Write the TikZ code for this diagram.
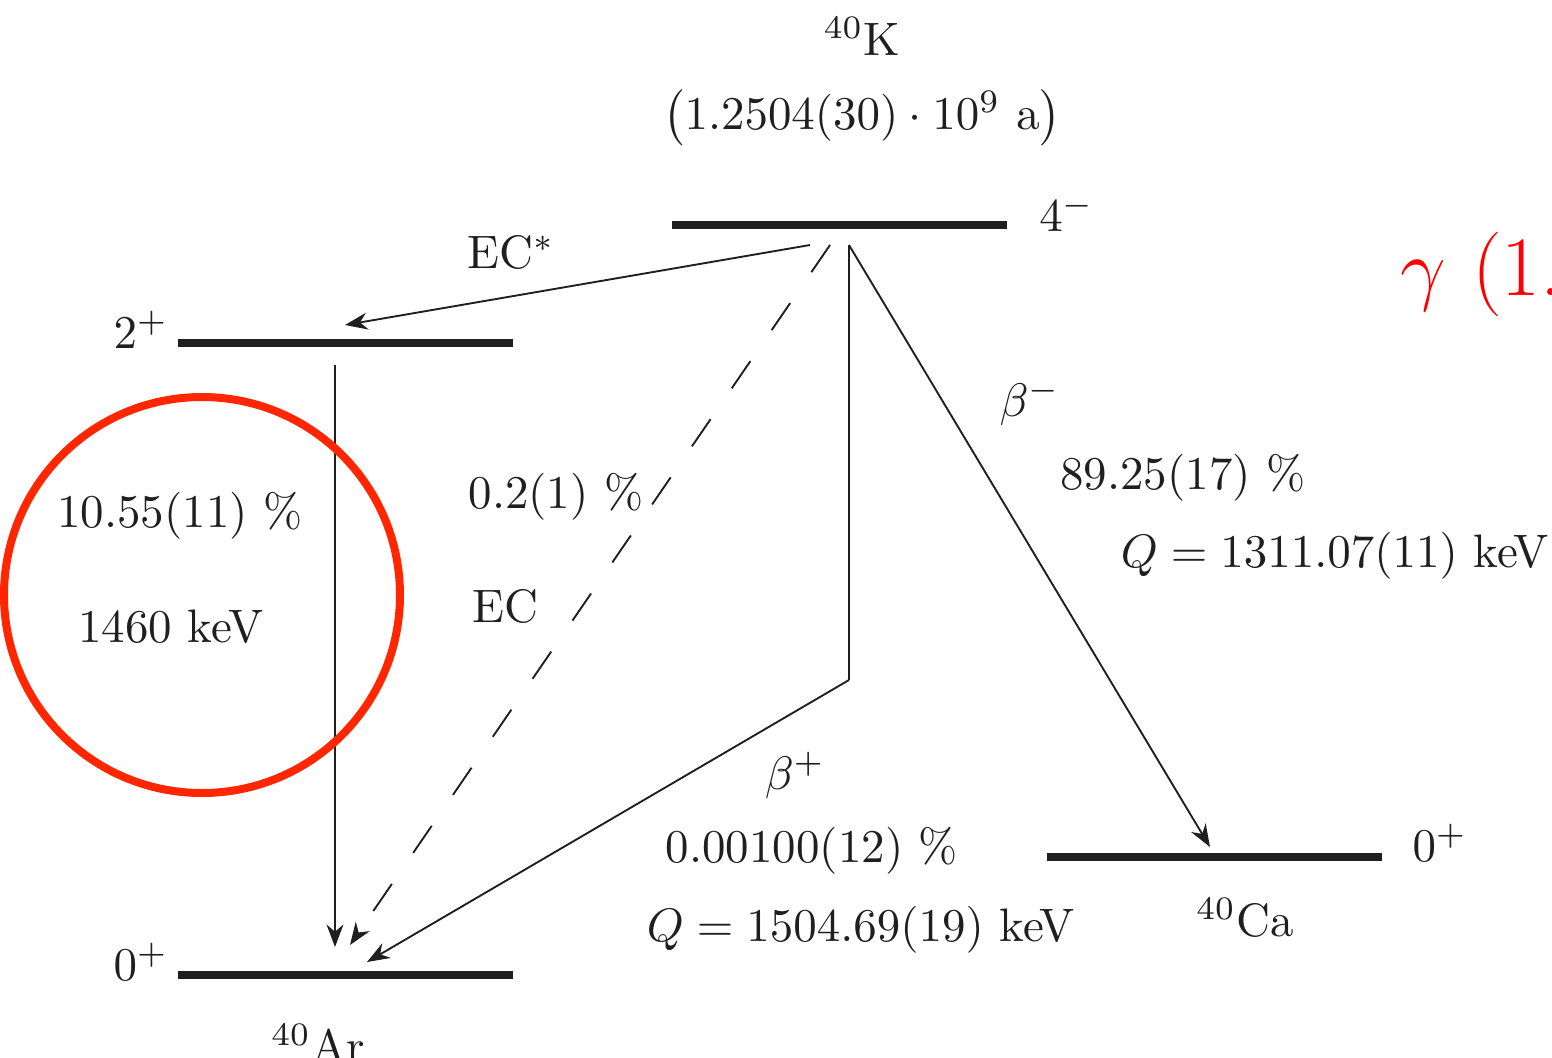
\documentclass[tikz,border=0pt]{standalone}
\usepackage{amsmath, amssymb}
\usepackage{tikz}
\usetikzlibrary{positioning,arrows.meta,calc}
\definecolor{ringred}{RGB}{255,38,0}
\tikzset{
  level/.style={line width=1.75pt, draw=black!88},
  decay/.style={thin, draw=black!88, -{Stealth}},
  ecdash/.style={decay, dash pattern=on 7pt off 8pt},
  plain/.style={thin, draw=black!88},
  txt/.style={inner sep=0pt, text=black!88}
}

\begin{document}
\begin{tikzpicture}[x=0.213pt, y=-0.213pt]
  \useasboundingbox (0,0) rectangle (1552,1057);
  \clip (0,0) rectangle (1552,1057);

  % levels
  \coordinate (k1) at (672,225);
  \coordinate (k2) at (1007,225);
  \coordinate (ex1) at (178,343);
  \coordinate (ex2) at (513,343);
  \coordinate (ar1) at (178,975);
  \coordinate (ar2) at (513,975);
  \coordinate (ca1) at (1047,857);
  \coordinate (ca2) at (1382,857);

  \draw[level] (k1) -- (k2);
  \draw[level] (ex1) -- (ex2);
  \draw[level] (ar1) -- (ar2);
  \draw[level] (ca1) -- (ca2);

  % level labels
  \node[txt] (kname) at (862,36) {$^{40}$K};
  \node[txt] (khalf) at (862,118) {$\left(1.2504(30)\cdot 10^{9}\ \mathrm{a}\right)$};
  \node[txt] (kspin) at (1067,213) {$4^{-}$};
  \node[txt] (exspin) at (141,330) {$2^{+}$};
  \node[txt] (arspin) at (141,962) {$0^{+}$};
  \node[txt] (arname) at (318,1043) {$^{40}$Ar};
  \node[txt] (caspin) at (1440,843) {$0^{+}$};
  \node[txt] (caname) at (1245,918) {$^{40}$Ca};

  % end points of the decays
  \coordinate (kec) at (810,245);
  \coordinate (kdash) at (830,245);
  \coordinate (kfoot) at (849,245);
  \coordinate (bend) at (849,680);
  \coordinate (exin) at (345,325);
  \coordinate (exout) at (335,365);
  \coordinate (argam) at (335,947);
  \coordinate (arec) at (350,945);
  \coordinate (arbp) at (367,962);
  \coordinate (cain) at (1210,847);

  \draw[decay]  (kec) -- (exin);
  \draw[decay]  (exout) -- (argam);
  \draw[ecdash] (kdash) -- (arec);
  \draw[plain]  (kfoot) -- (bend);
  \draw[decay]  (bend) -- (arbp);
  \draw[decay]  (kfoot) -- (cain);

  % EC branches
  \node[txt] (ecstar) at (511,252) {EC$^{*}$};
  \node[txt] (ecfrac) at (556,497) {0.2(1) \%};
  \node[txt] (ecname) at (505,606) {EC};
  % gamma line
  \node[txt] (gfrac) at (180,516) {10.55(11) \%};
  \node[txt] (genergy) at (171,627) {1460 keV};
  % beta minus
  \node[txt] (bmname) at (1030,402) {$\beta^{-}$};
  \node[txt] (bmfrac) at (1183,478) {89.25(17) \%};
  \node[txt] (bmq) at (1335,556) {$Q = 1311.07(11)$ keV};
  % beta plus
  \node[txt] (bpname) at (795,775) {$\beta^{+}$};
  \node[txt] (bpfrac) at (812,851) {0.00100(12) \%};
  \node[txt] (bpq) at (861,930) {$Q = 1504.69(19)$ keV};

  % highlight
  \coordinate (ring) at (202,595);
  \draw[ringred, line width=1.7pt] (ring) circle [radius=198];
  \node[anchor=base west, inner sep=0pt, text=red,
    font=\fontsize{18}{22}\selectfont] (gam) at (1400,295) {$\gamma$ (1.};

\end{tikzpicture}
\end{document}
